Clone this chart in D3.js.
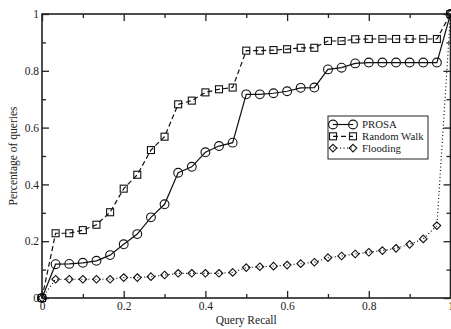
<!DOCTYPE html>
<html>
<head>
<meta charset="utf-8">
<script src="https://cdn.jsdelivr.net/npm/d3@7"></script>
<style>
  body { margin: 0; background: #fff; }
  svg, svg text { font-family: "Liberation Serif", "Times New Roman", serif; }
</style>
</head>
<body>
<div class="chart"></div>
<script>
// query recall on x (same for all three series)
const recall = [0, 0.0333, 0.0667, 0.1, 0.1333, 0.1667, 0.2, 0.2333, 0.2667, 0.3, 0.3333,
  0.3667, 0.4, 0.4333, 0.4667, 0.5, 0.5333, 0.5667, 0.6, 0.6333, 0.6667, 0.7, 0.7333,
  0.7667, 0.8, 0.8333, 0.8667, 0.9, 0.9333, 0.9667, 1];

const prosa = [0, 0.119, 0.12, 0.124, 0.131, 0.151, 0.189, 0.225, 0.284, 0.33, 0.441,
  0.462, 0.513, 0.535, 0.547, 0.717, 0.717, 0.721, 0.728, 0.74, 0.741, 0.805, 0.811,
  0.826, 0.829, 0.829, 0.829, 0.829, 0.829, 0.829, 1];

const randomWalk = [0, 0.228, 0.228, 0.239, 0.258, 0.302, 0.385, 0.434, 0.521, 0.568, 0.682,
  0.695, 0.724, 0.735, 0.741, 0.871, 0.871, 0.873, 0.876, 0.881, 0.881, 0.905, 0.905,
  0.911, 0.912, 0.912, 0.912, 0.912, 0.912, 0.912, 1];

const flooding = [0, 0.066, 0.066, 0.066, 0.066, 0.066, 0.072, 0.072, 0.075, 0.081, 0.087,
  0.087, 0.087, 0.087, 0.09, 0.107, 0.11, 0.112, 0.116, 0.121, 0.126, 0.142, 0.148,
  0.155, 0.161, 0.167, 0.175, 0.189, 0.208, 0.255, 1];

const seriesNames = ["PROSA", "Random Walk", "Flooding"];
const majorTicks = [0, 0.2, 0.4, 0.6, 0.8, 1];
const minorTicks = [0.1, 0.3, 0.5, 0.7, 0.9];

const W = 451, H = 329;
const margin = {top: 14, right: 0.5, bottom: 31, left: 42},
  width = W - margin.left - margin.right,
  height = H - margin.top - margin.bottom;

const serif = "'Liberation Serif', 'Times New Roman', serif";

const x = d3.scaleLinear().domain([0, 1]).range([0, width]);
const y = d3.scaleLinear().domain([0, 1]).range([height, 0]);

const svg = d3.select(".chart").append("svg")
    .attr("width", W)
    .attr("height", H)
  .append("g")
    .attr("transform", "translate(" + margin.left + "," + margin.top + ")");

// frame
svg.append("rect")
  .attr("width", width).attr("height", height)
  .attr("fill", "none").attr("stroke", "#222").attr("stroke-width", 1.6);

const fmt = d => d === 0 ? "0" : d === 1 ? "1" : d3.format(".1f")(d);

function styleAxis(g, showText) {
  g.attr("font-family", serif);
  g.select(".domain").remove();
  g.selectAll(".tick line").attr("stroke", "#222").attr("stroke-width", 1.3);
  g.selectAll("text").attr("font-size", 11.5).attr("fill", "#222")
    .attr("font-family", serif);
  if (!showText) g.selectAll("text").remove();
}

// bottom
svg.append("g").attr("transform", "translate(0," + height + ")")
  .call(d3.axisBottom(x).tickValues(majorTicks).tickSize(-7).tickPadding(4).tickFormat(fmt))
  .call(g => styleAxis(g, true));
svg.append("g").attr("transform", "translate(0," + height + ")")
  .call(d3.axisBottom(x).tickValues(minorTicks).tickSize(-4))
  .call(g => styleAxis(g, false));
// top
svg.append("g")
  .call(d3.axisTop(x).tickValues(majorTicks).tickSize(-7))
  .call(g => styleAxis(g, false));
svg.append("g")
  .call(d3.axisTop(x).tickValues(minorTicks).tickSize(-4))
  .call(g => styleAxis(g, false));
// left
svg.append("g")
  .call(d3.axisLeft(y).tickValues(majorTicks).tickSize(-7).tickPadding(3).tickFormat(fmt))
  .call(g => styleAxis(g, true));
svg.append("g")
  .call(d3.axisLeft(y).tickValues(minorTicks).tickSize(-4))
  .call(g => styleAxis(g, false));
// right
svg.append("g").attr("transform", "translate(" + width + ",0)")
  .call(d3.axisRight(y).tickValues(majorTicks).tickSize(-7))
  .call(g => styleAxis(g, false));
svg.append("g").attr("transform", "translate(" + width + ",0)")
  .call(d3.axisRight(y).tickValues(minorTicks).tickSize(-4))
  .call(g => styleAxis(g, false));

// axis titles
svg.append("text")
  .attr("x", width / 2).attr("y", height + 26)
  .attr("text-anchor", "middle").attr("font-size", 11.5).attr("fill", "#222")
  .attr("font-family", serif)
  .text("Query Recall");
svg.append("text")
  .attr("transform", "translate(" + (-25) + "," + (height / 2) + ") rotate(-90)")
  .attr("text-anchor", "middle").attr("font-size", 11.5).attr("fill", "#222")
  .attr("font-family", serif)
  .text("Percentage of queries");

const series = [
  {name: seriesNames[0], values: prosa, dash: null, marker: "circle"},
  {name: seriesNames[1], values: randomWalk, dash: "5,3", marker: "square"},
  {name: seriesNames[2], values: flooding, dash: "1,2.5", marker: "diamond"}
];

const line = d3.line()
  .x((d, i) => x(recall[i]))
  .y(d => y(d));

function drawMarker(g, type, cx, cy) {
  if (type === "circle") {
    g.append("circle").attr("cx", cx).attr("cy", cy).attr("r", 4.4);
  } else if (type === "square") {
    g.append("rect").attr("x", cx - 3.5).attr("y", cy - 3.5).attr("width", 7).attr("height", 7);
  } else {
    g.append("path").attr("d", "M" + cx + "," + (cy - 3.8) + "L" + (cx + 3.8) + "," + cy +
      "L" + cx + "," + (cy + 3.8) + "L" + (cx - 3.8) + "," + cy + "Z");
  }
}

series.forEach(s => {
  svg.append("path")
    .datum(s.values)
    .attr("d", line)
    .attr("fill", "none")
    .attr("stroke", "#111")
    .attr("stroke-width", 1.2)
    .attr("stroke-dasharray", s.dash);
  const mg = svg.append("g").attr("fill", "none").attr("stroke", "#111").attr("stroke-width", 1.1);
  s.values.forEach((v, i) => drawMarker(mg, s.marker, x(recall[i]), y(v)));
});

// legend
const lg = svg.append("g").attr("transform", "translate(" + (328 - margin.left) + "," + (116 - margin.top) + ")");
lg.append("rect").attr("width", 100).attr("height", 43)
  .attr("fill", "#fff").attr("stroke", "#222").attr("stroke-width", 1);
series.forEach((s, i) => {
  const yy = 8.5 + i * 11.8;
  lg.append("line").attr("x1", 5).attr("x2", 25).attr("y1", yy).attr("y2", yy)
    .attr("stroke", "#111").attr("stroke-width", 1.2).attr("stroke-dasharray", s.dash);
  const mg = lg.append("g").attr("fill", "none").attr("stroke", "#111").attr("stroke-width", 1.1);
  drawMarker(mg, s.marker, 5, yy);
  drawMarker(mg, s.marker, 25, yy);
  lg.append("text").attr("x", 34).attr("y", yy + 3.8).attr("font-size", 10.8).attr("fill", "#222")
    .attr("font-family", serif)
    .text(s.name);
});
</script>
</body>
</html>
